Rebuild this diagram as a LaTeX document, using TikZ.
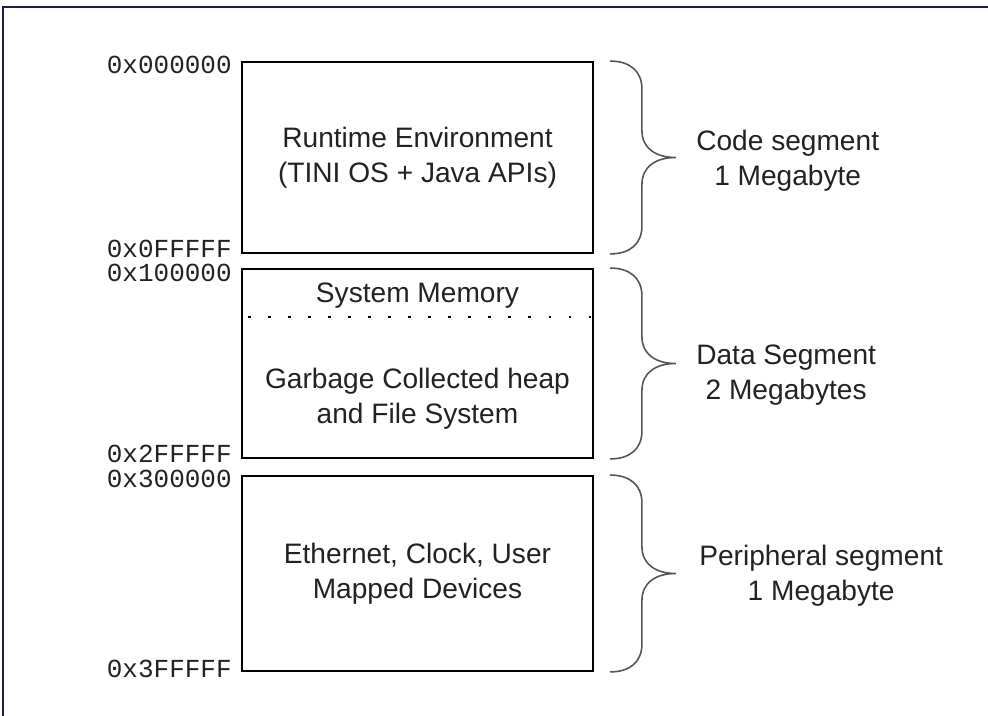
\documentclass[tikz,border=0pt]{standalone}
\usepackage{fontspec}
\setmainfont{Liberation Sans}
\setmonofont{Liberation Mono}
\usepackage{tikz}
\usetikzlibrary{calc}
\definecolor{framenavy}{HTML}{1C1C50}
\definecolor{inkgray}{HTML}{222222}
\definecolor{bracegray}{HTML}{555555}
\tikzset{%
  boxtext/.style = {inner sep = 0pt, text = inkgray, font = \fontsize{16}{20}\selectfont, align = center},
  segbox/.style = {boxtext, rectangle, draw = black, line width = 1.1pt, minimum width = 7.02cm},
  addr/.style = {inner sep = 0pt, text = inkgray, font = \fontsize{14.8}{15}\ttfamily},
  seglabel/.style = {boxtext, anchor = west},
  bracestroke/.style = {draw = bracegray, line width = 0.9pt},
  dotrow/.style = {draw = black, line width = 1.6pt, dash pattern = on 1.6pt off 9.8pt}
}
% curly brace next to a segment, from its top corner to its bottom corner
\newcommand{\segbrace}[2]{%
  \coordinate (bt) at ($(#1)+(16,0)$);
  \coordinate (bb) at ($(#2)+(16,0)$);
  \coordinate (bm) at ($(bt)!.5!(bb)$);
  \draw[bracestroke] (bt) .. controls +(20,0) and +(0,-18) .. ($(bt)+(32,28)$)
    -- ($(bm)+(32,-27)$) .. controls +(0,18) and +(-20,0) .. ($(bm)+(66,0)$)
    .. controls +(-20,0) and +(0,-18) .. ($(bm)+(32,27)$)
    -- ($(bb)+(32,-28)$) .. controls +(0,18) and +(20,0) .. (bb);
}

\begin{document}
\begin{tikzpicture}[x=0.02cm, y=-0.02cm]
  \useasboundingbox (0,0) rectangle (988,716);
  \draw[draw=framenavy, line width=1.5pt] (3,716) -- (3,7) -- (988,7);

  % memory segments
  \node[segbox, minimum height=3.82cm] (runtime) at (417.5,157.5) {Runtime Environment\\(TINI OS + Java APIs)};
  \node[segbox, minimum height=3.78cm] (dataseg) at (417.5,363.5) {};
  \node[segbox, minimum height=3.9cm] (periph) at (417.5,573.5) {Ethernet, Clock, User\\Mapped Devices};
  \node[boxtext] (sysmem) at ($(dataseg.north)+(0,28)$) {System Memory};
  \node[boxtext] (heap) at ($(dataseg.north)+(0,131)$) {Garbage Collected heap\\and File System};
  \draw[dotrow] ($(dataseg.north west)+(7,49)$) -- ($(dataseg.north east)+(0,49)$);

  % addresses
  \node[addr, anchor=east] (a0) at ($(runtime.north west)+(-9,4)$) {0x000000};
  \node[addr, anchor=east] (a1) at ($(runtime.south west)+(-9,-5)$) {0x0FFFFF};
  \node[addr, anchor=east] (a2) at ($(dataseg.north west)+(-9,5)$) {0x100000};
  \node[addr, anchor=east] (a3) at ($(dataseg.south west)+(-9,-5)$) {0x2FFFFF};
  \node[addr, anchor=east] (a4) at ($(periph.north west)+(-9,4)$) {0x300000};
  \node[addr, anchor=east] (a5) at ($(periph.south west)+(-9,-3)$) {0x3FFFFF};

  % braces and sizes
  \segbrace{runtime.north east}{runtime.south east}
  \segbrace{dataseg.north east}{dataseg.south east}
  \segbrace{periph.north east}{periph.south east}
  \node[seglabel] (codelbl) at ($(runtime.east)+(102,3)$) {Code segment\\1 Megabyte};
  \node[seglabel] (datalbl) at ($(dataseg.east)+(102,12)$) {Data Segment\\2 Megabytes};
  \node[seglabel] (periphlbl) at ($(periph.east)+(105,2)$) {Peripheral segment\\1 Megabyte};
\end{tikzpicture}
\end{document}
